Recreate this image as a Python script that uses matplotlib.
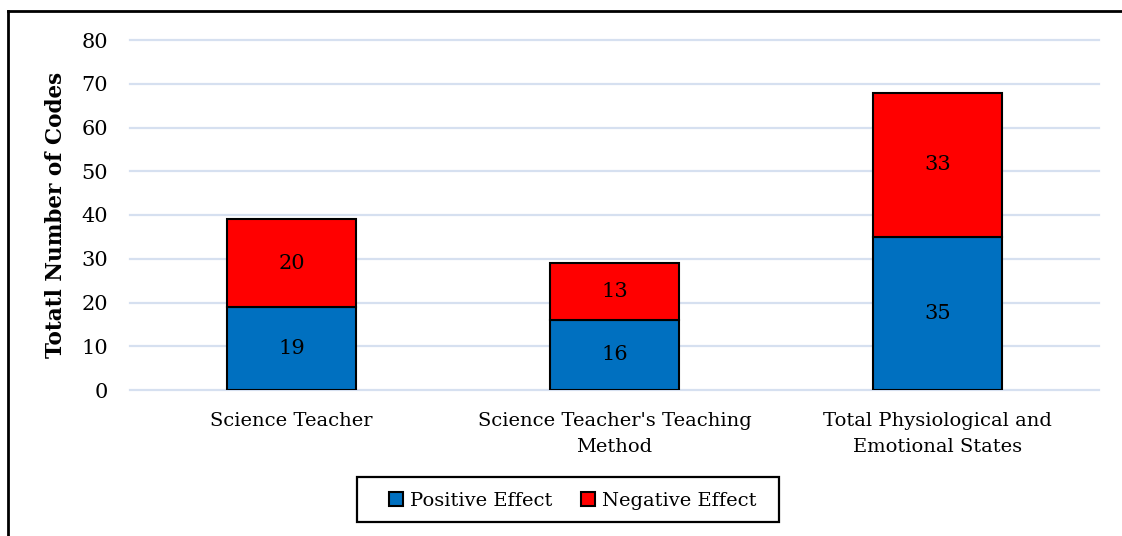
import matplotlib
matplotlib.use("Agg")
import matplotlib.pyplot as plt
from matplotlib.lines import Line2D
from matplotlib.patches import Patch, Rectangle

categories = ["Science Teacher", "Science Teacher's Teaching\nMethod",
              "Total Physiological and\nEmotional States"]
positive = [19, 16, 35]
negative = [20, 13, 33]
series_names = ["Positive Effect", "Negative Effect"]
yticks = [0, 10, 20, 30, 40, 50, 60, 70, 80]

plt.rcParams['font.family'] = ['DejaVu Serif']
FS = 14
NFS = 15

W, H = 1122, 536
fig = plt.figure(figsize=(W / 100, H / 100), dpi=100)
ax = fig.add_axes([130 / W, 1 - 390 / H, (1099 - 130) / W, 350 / H])

blue = "#0070C0"
red = "#FF0000"
x = range(len(categories))
ax.bar(x, positive, width=0.4, color=blue, edgecolor="black", linewidth=1.5, zorder=3)
ax.bar(x, negative, width=0.4, bottom=positive, color=red, edgecolor="black", linewidth=1.5, zorder=3)
for i in x:
    ax.text(i, positive[i] / 2, str(positive[i]), ha="center", va="center", fontsize=NFS, zorder=4)
    ax.text(i, positive[i] + negative[i] / 2, str(negative[i]), ha="center", va="center", fontsize=NFS, zorder=4)

ax.set_xlim(-0.5, 2.5)
ax.set_ylim(0, 80)
ax.set_yticks(yticks)
ax.set_xticks(list(x))
ax.set_xticklabels(categories, fontsize=FS, linespacing=1.55)
ax.tick_params(axis="y", length=0, labelsize=NFS, pad=16)
ax.tick_params(axis="x", length=0, pad=16)
for s in ax.spines.values():
    s.set_visible(False)
ax.grid(axis="y", color="#D6E0F0", linewidth=1.6, zorder=0)
for gl in ax.get_ygridlines():
    gl.set_clip_on(False)
ax.set_axisbelow(True)
ax.set_ylabel("Totatl Number of Codes", fontsize=15.5, fontweight="bold", labelpad=10)

handles = [Patch(facecolor=blue, edgecolor="black", linewidth=1.5),
           Patch(facecolor=red, edgecolor="black", linewidth=1.5)]
leg = fig.legend(handles, series_names, loc="center", bbox_to_anchor=(572.5 / W, 1 - 501 / H),
                 ncol=2, fontsize=FS, frameon=False,
                 handlelength=0.75, handleheight=0.75, handletextpad=0.35, columnspacing=1.45,
                 borderpad=0.5)
fig.add_artist(Rectangle((357 / W, 1 - 522 / H), (779 - 357) / W, 45 / H, transform=fig.transFigure,
                         facecolor="none", edgecolor="black", linewidth=1.6))

# outer border (left and top)
fig.add_artist(Line2D([8 / W, 8 / W], [0, 1 - 11 / H], transform=fig.transFigure, color="black", linewidth=2))
fig.add_artist(Line2D([8 / W, 1], [1 - 11 / H, 1 - 11 / H], transform=fig.transFigure, color="black", linewidth=2))

fig.savefig("out.png", dpi=100)
